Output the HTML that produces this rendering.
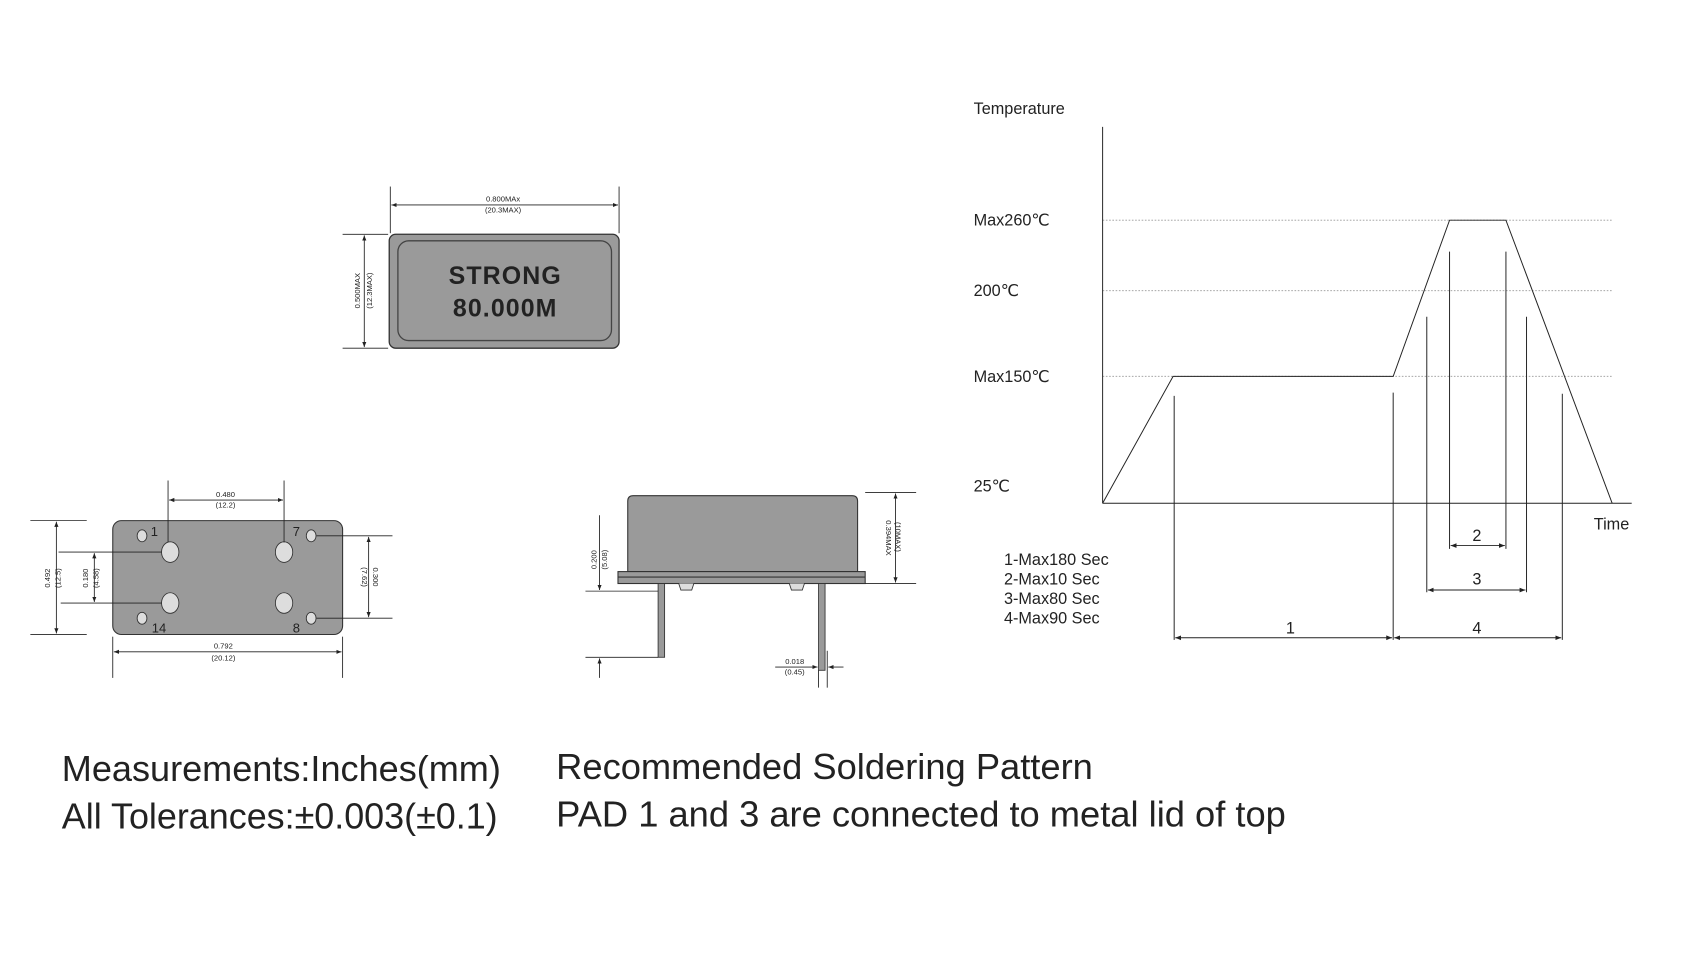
<!DOCTYPE html>
<html><head><meta charset="utf-8"><style>html,body{margin:0;padding:0;background:#fff}svg{display:block}</style></head>
<body>
<svg width="1700" height="974" viewBox="0 0 1568 898" preserveAspectRatio="none" xmlns="http://www.w3.org/2000/svg" font-family="Liberation Sans, DejaVu Sans, sans-serif">
<defs>
<marker id="a" viewBox="0 0 10 10" refX="10" refY="5" markerWidth="6" markerHeight="6" orient="auto-start-reverse"><path d="M0,1 L10,5 L0,9 z" fill="#222"/></marker>
</defs>
<rect width="1568" height="898" fill="#fff"/>
<g stroke="#222" stroke-width="0.8" fill="none">
<line x1="360" y1="172" x2="360" y2="215"/><line x1="571" y1="172" x2="571" y2="215"/>
<line x1="361" y1="189" x2="570" y2="189" marker-start="url(#a)" marker-end="url(#a)"/>
<line x1="316" y1="216" x2="358" y2="216"/><line x1="316" y1="321" x2="358" y2="321"/>
<line x1="336" y1="217" x2="336" y2="320" marker-start="url(#a)" marker-end="url(#a)"/>
</g>
<rect x="359" y="216" width="212" height="105" rx="6" fill="#9a9a9a" stroke="#333" stroke-width="1.2"/>
<rect x="367" y="222" width="197" height="92" rx="10" fill="none" stroke="#444" stroke-width="1.2"/>
<text x="466" y="262" font-size="23" font-weight="bold" text-anchor="middle" fill="#222" letter-spacing="1">STRONG</text>
<text x="466" y="292" font-size="23" font-weight="bold" text-anchor="middle" fill="#222" letter-spacing="1">80.000M</text>
<g font-size="7" fill="#222" text-anchor="middle">
<text x="464" y="186">0.800MAx</text><text x="464" y="196">(20.3MAX)</text>
<text transform="translate(332,268) rotate(-90)">0.500MAX</text>
<text transform="translate(343,268) rotate(-90)">(12.3MAX)</text>
</g>
<rect x="104" y="480" width="212" height="105" rx="8" fill="#9a9a9a" stroke="#333" stroke-width="1"/>
<g fill="#ddd" stroke="#333" stroke-width="0.8">
<ellipse cx="131" cy="494" rx="4.5" ry="5.5"/><ellipse cx="287" cy="494" rx="4.5" ry="5.5"/>
<ellipse cx="131" cy="570" rx="4.5" ry="5.5"/><ellipse cx="287" cy="570" rx="4.5" ry="5.5"/>
<ellipse cx="157" cy="509" rx="8" ry="9.5"/><ellipse cx="262" cy="509" rx="8" ry="9.5"/>
<ellipse cx="157" cy="556" rx="8" ry="9.5"/><ellipse cx="262" cy="556" rx="8" ry="9.5"/>
</g>
<g font-size="12" fill="#222"><text x="139" y="494">1</text><text x="270" y="494">7</text><text x="140" y="583">14</text><text x="270" y="583">8</text></g>
<g stroke="#222" stroke-width="0.8" fill="none">
<line x1="155" y1="443" x2="155" y2="500"/><line x1="262" y1="443" x2="262" y2="500"/>
<line x1="156" y1="461" x2="261" y2="461" marker-start="url(#a)" marker-end="url(#a)"/>
<line x1="28" y1="480" x2="80" y2="480"/><line x1="28" y1="585" x2="80" y2="585"/>
<line x1="52" y1="481" x2="52" y2="584" marker-start="url(#a)" marker-end="url(#a)"/>
<line x1="54" y1="509" x2="149" y2="509"/><line x1="56" y1="556" x2="149" y2="556"/>
<line x1="87" y1="510" x2="87" y2="555" marker-start="url(#a)" marker-end="url(#a)"/>
<line x1="292" y1="494" x2="362" y2="494"/><line x1="292" y1="570" x2="362" y2="570"/>
<line x1="340" y1="495" x2="340" y2="569" marker-start="url(#a)" marker-end="url(#a)"/>
<line x1="104" y1="587" x2="104" y2="625"/><line x1="316" y1="587" x2="316" y2="625"/>
<line x1="105" y1="601" x2="315" y2="601" marker-start="url(#a)" marker-end="url(#a)"/>
</g>
<g font-size="7" fill="#222" text-anchor="middle">
<text x="208" y="458">0.480</text><text x="208" y="468">(12.2)</text>
<text x="206" y="598">0.792</text><text x="206" y="609">(20.12)</text>
<text transform="translate(46,533) rotate(-90)">0.492</text><text transform="translate(56,533) rotate(-90)">(12.5)</text>
<text transform="translate(81,533) rotate(-90)">0.180</text><text transform="translate(91,533) rotate(-90)">(4.58)</text>
<text transform="translate(344,532) rotate(90)">0.300</text><text transform="translate(334,532) rotate(90)">(7.62)</text>
</g>
<path d="M579,527 L579,462 Q579,457 584,457 L786,457 Q791,457 791,462 L791,527 Z" fill="#9a9a9a" stroke="#333" stroke-width="1"/>
<rect x="570" y="527" width="228" height="11" fill="#9a9a9a" stroke="#333" stroke-width="1"/>
<line x1="570" y1="532" x2="798" y2="532" stroke="#333" stroke-width="1"/>
<rect x="607" y="538" width="6" height="68" fill="#9a9a9a" stroke="#333" stroke-width="0.8"/>
<rect x="755" y="538" width="6" height="80" fill="#9a9a9a" stroke="#333" stroke-width="0.8"/>
<path d="M626,538 L628,544 L638,544 L640,538" fill="#ddd" stroke="#333" stroke-width="0.8"/>
<path d="M728,538 L730,544 L740,544 L742,538" fill="#ddd" stroke="#333" stroke-width="0.8"/>
<g stroke="#222" stroke-width="0.8" fill="none">
<line x1="798" y1="454" x2="845" y2="454"/><line x1="798" y1="538" x2="845" y2="538"/>
<line x1="826" y1="455" x2="826" y2="537" marker-start="url(#a)" marker-end="url(#a)"/>
<line x1="540" y1="545" x2="607" y2="545"/><line x1="540" y1="606" x2="607" y2="606"/>
<line x1="553" y1="475" x2="553" y2="544" marker-end="url(#a)"/>
<line x1="553" y1="625" x2="553" y2="607" marker-end="url(#a)"/>
<line x1="755" y1="618" x2="755" y2="634"/><line x1="763" y1="600" x2="763" y2="634"/>
<line x1="715" y1="615" x2="754" y2="615" marker-end="url(#a)"/>
<line x1="778" y1="615" x2="764" y2="615" marker-end="url(#a)"/>
</g>
<g font-size="7" fill="#222" text-anchor="middle">
<text transform="translate(817,496) rotate(90)">0.394MAX</text><text transform="translate(826,496) rotate(90)" dx="-1">(10MAX)</text>
<text transform="translate(550,516) rotate(-90)">0.200</text><text transform="translate(560,516) rotate(-90)">(5.08)</text>
<text x="733" y="612">0.018</text><text x="733" y="622">(0.45)</text>
</g>
<g stroke="#999" stroke-width="0.8" stroke-dasharray="1.5,1.5">
<line x1="1017" y1="203" x2="1488" y2="203"/><line x1="1017" y1="268" x2="1488" y2="268"/><line x1="1017" y1="347" x2="1488" y2="347"/>
</g>
<g stroke="#222" stroke-width="0.9" fill="none">
<line x1="1017" y1="117" x2="1017" y2="464"/><line x1="1017" y1="464" x2="1505" y2="464"/>
<polyline points="1017,464 1082,347 1285,347 1337,203 1389,203 1487,464"/>
<line x1="1083" y1="365" x2="1083" y2="590"/><line x1="1285" y1="362" x2="1285" y2="590"/>
<line x1="1316" y1="292" x2="1316" y2="546"/><line x1="1337" y1="232" x2="1337" y2="506"/>
<line x1="1389" y1="232" x2="1389" y2="506"/><line x1="1408" y1="292" x2="1408" y2="546"/>
<line x1="1441" y1="363" x2="1441" y2="590"/>
<line x1="1338" y1="503" x2="1388" y2="503" marker-start="url(#a)" marker-end="url(#a)"/>
<line x1="1317" y1="544" x2="1407" y2="544" marker-start="url(#a)" marker-end="url(#a)"/>
<line x1="1084" y1="588" x2="1284" y2="588" marker-start="url(#a)" marker-end="url(#a)"/>
<line x1="1286" y1="588" x2="1440" y2="588" marker-start="url(#a)" marker-end="url(#a)"/>
</g>
<g font-size="15" fill="#222">
<text x="898" y="105">Temperature</text>
<text x="898" y="208">Max260℃</text><text x="898" y="273">200℃</text>
<text x="898" y="352">Max150℃</text><text x="898" y="453">25℃</text>
<text x="1470" y="488">Time</text>
<text x="1358" y="499">2</text><text x="1358" y="539">3</text>
<text x="1186" y="584">1</text><text x="1358" y="584">4</text>
<text x="926" y="521">1-Max180 Sec</text><text x="926" y="539">2-Max10 Sec</text>
<text x="926" y="557">3-Max80 Sec</text><text x="926" y="575">4-Max90 Sec</text>
</g>
<g font-size="33" fill="#222">
<text x="57" y="720" textLength="405" lengthAdjust="spacingAndGlyphs">Measurements:Inches(mm)</text>
<text x="57" y="764" textLength="402" lengthAdjust="spacingAndGlyphs">All Tolerances:±0.003(±0.1)</text>
<text x="513" y="718" textLength="495" lengthAdjust="spacingAndGlyphs">Recommended Soldering Pattern</text>
<text x="513" y="762" textLength="673" lengthAdjust="spacingAndGlyphs">PAD 1 and 3 are connected to metal lid of top</text>
</g>
</svg>
</body></html>
